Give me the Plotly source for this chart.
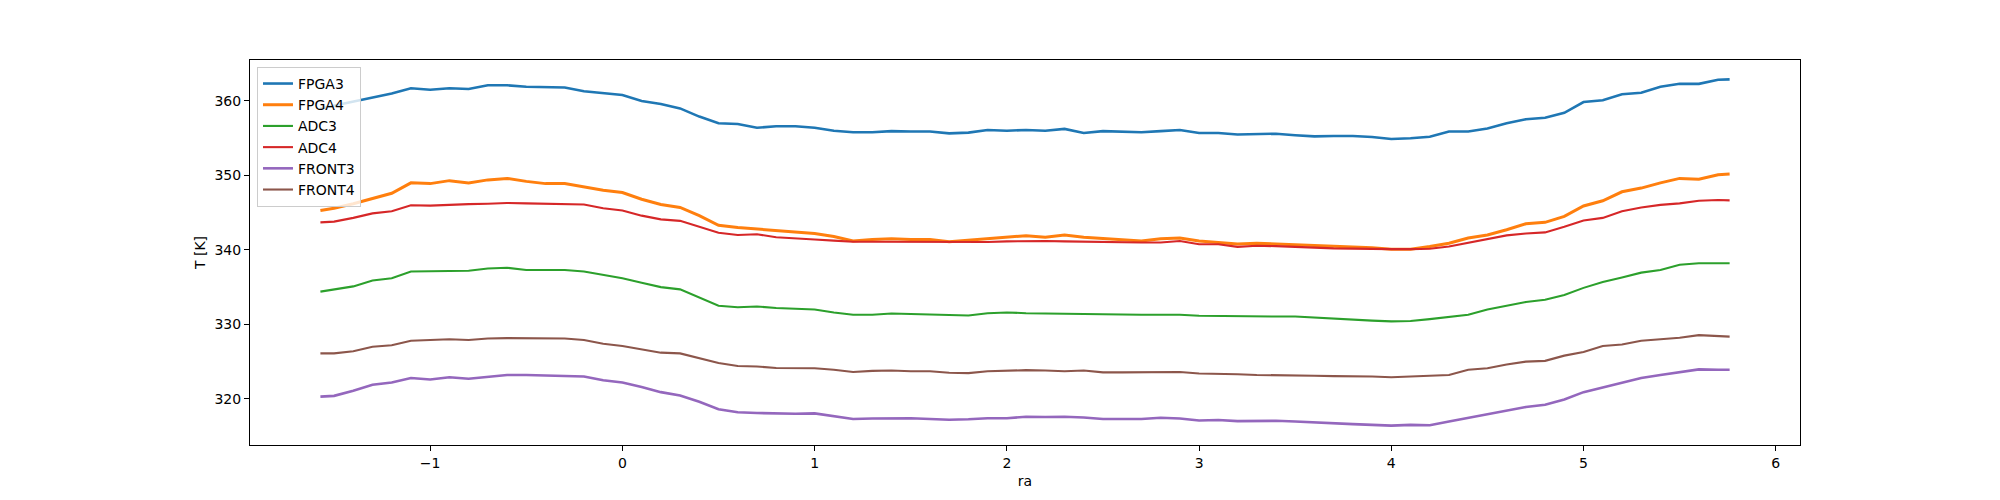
import plotly.graph_objects as go

ra = [-1.571, -1.5, -1.4, -1.3, -1.2, -1.1, -1.0, -0.9, -0.8, -0.7, -0.6, -0.5, -0.4, -0.3, -0.2, -0.1,
      0.0, 0.1, 0.2, 0.3, 0.4, 0.5, 0.6, 0.7, 0.8, 0.9, 1.0, 1.1, 1.2, 1.3, 1.4, 1.5, 1.6, 1.7, 1.8, 1.9,
      2.0, 2.1, 2.2, 2.3, 2.4, 2.5, 2.6, 2.7, 2.8, 2.9, 3.0, 3.1, 3.2, 3.3, 3.4, 3.5, 3.6, 3.7, 3.8, 3.9,
      4.0, 4.1, 4.2, 4.3, 4.4, 4.5, 4.6, 4.7, 4.8, 4.9, 5.0, 5.1, 5.2, 5.3, 5.4, 5.5, 5.6, 5.7, 5.76]

fpga3 = [359.0, 359.4, 359.9, 360.5, 361.0, 361.7, 361.5, 361.7, 361.6, 362.1, 362.1, 361.9, 361.9, 361.8, 361.3, 361.0,
         360.8, 360.0, 359.6, 359.0, 357.9, 357.0, 356.9, 356.4, 356.6, 356.6, 356.4, 356.0, 355.8, 355.8, 355.95, 355.9, 355.9, 355.65, 355.75, 356.1,
         356.0, 356.1, 356.0, 356.25, 355.7, 355.95, 355.9, 355.8, 355.95, 356.1, 355.7, 355.7, 355.5, 355.55, 355.6, 355.4, 355.25, 355.3, 355.3, 355.15,
         354.9, 355.0, 355.2, 355.9, 355.9, 356.3, 357.0, 357.55, 357.75, 358.4, 359.85, 360.1, 360.9, 361.1, 361.9, 362.3, 362.3, 362.85, 362.9]

fpga4 = [345.3, 345.6, 346.2, 346.9, 347.6, 349.0, 348.9, 349.3, 349.0, 349.4, 349.6, 349.2, 348.9, 348.9, 348.4, 348.0,
         347.7, 346.8, 346.1, 345.7, 344.6, 343.3, 343.0, 342.8, 342.5, 342.3, 342.2, 341.8, 341.2, 341.4, 341.5, 341.4, 341.4, 341.1, 341.3, 341.5,
         341.8, 341.9, 341.7, 342.0, 341.7, 341.5, 341.35, 341.2, 341.5, 341.6, 341.2, 341.0, 340.8, 340.9, 340.85, 340.7, 340.6, 340.5, 340.45, 340.3,
         340.1, 340.1, 340.45, 340.9, 341.6, 342.0, 342.7, 343.5, 343.7, 344.5, 345.9, 346.6, 347.8, 348.3, 349.0, 349.6, 349.5, 350.1, 350.2]

adc3 = [334.4, 334.7, 335.1, 335.9, 336.2, 337.1, 337.1, 337.2, 337.2, 337.5, 337.6, 337.3, 337.3, 337.3, 337.1, 336.7,
        336.2, 335.6, 335.0, 334.7, 333.6, 332.5, 332.3, 332.4, 332.2, 332.15, 332.0, 331.6, 331.3, 331.3, 331.45, 331.4, 331.35, 331.2, 331.2, 331.5,
        331.6, 331.5, 331.45, 331.5, 331.35, 331.3, 331.3, 331.3, 331.3, 331.3, 331.15, 331.1, 331.05, 331.1, 331.05, 331.05, 330.9, 330.7, 330.65, 330.5,
        330.4, 330.45, 330.7, 331.05, 331.3, 332.0, 332.45, 333.0, 333.3, 333.95, 334.9, 335.7, 336.3, 336.95, 337.3, 338.0, 338.2, 338.2, 338.2]

adc4 = [343.7, 343.8, 344.3, 344.9, 345.2, 346.0, 345.95, 346.1, 346.15, 346.2, 346.3, 346.25, 346.2, 346.2, 346.1, 345.6,
        345.3, 344.6, 344.1, 343.9, 343.1, 342.3, 342.0, 342.1, 341.7, 341.5, 341.4, 341.25, 341.1, 341.1, 341.1, 341.1, 341.1, 341.1, 341.0, 341.05,
        341.15, 341.2, 341.2, 341.15, 341.1, 341.0, 341.0, 341.0, 341.0, 341.2, 340.75, 340.75, 340.4, 340.55, 340.5, 340.35, 340.3, 340.2, 340.15, 340.1,
        340.1, 340.1, 340.15, 340.45, 340.95, 341.4, 341.95, 342.2, 342.35, 343.1, 343.95, 344.3, 345.2, 345.7, 346.05, 346.25, 346.6, 346.7, 346.65]

front3 = [320.3, 320.4, 321.1, 321.9, 322.2, 322.8, 322.6, 322.9, 322.7, 323.0, 323.2, 323.2, 323.1, 323.1, 323.0, 322.5,
          322.2, 321.6, 320.9, 320.45, 319.6, 318.6, 318.2, 318.1, 318.0, 318.0, 318.05, 317.7, 317.3, 317.35, 317.4, 317.4, 317.3, 317.2, 317.25, 317.4,
          317.4, 317.6, 317.55, 317.6, 317.5, 317.3, 317.3, 317.3, 317.45, 317.35, 317.1, 317.15, 317.0, 317.05, 317.05, 316.95, 316.8, 316.7, 316.6, 316.5,
          316.4, 316.5, 316.45, 316.95, 317.45, 318.0, 318.4, 318.9, 319.2, 319.9, 320.9, 321.5, 322.2, 322.8, 323.2, 323.6, 323.95, 323.9, 323.9]

front4 = [326.1, 326.1, 326.4, 327.0, 327.2, 327.8, 327.9, 328.0, 327.9, 328.1, 328.15, 328.15, 328.15, 328.1, 327.9, 327.4,
          327.1, 326.7, 326.2, 326.1, 325.5, 324.8, 324.4, 324.35, 324.15, 324.1, 324.1, 323.9, 323.6, 323.75, 323.8, 323.7, 323.7, 323.5, 323.45, 323.7,
          323.8, 323.85, 323.8, 323.7, 323.8, 323.55, 323.55, 323.55, 323.65, 323.6, 323.4, 323.4, 323.3, 323.2, 323.2, 323.15, 323.1, 323.05, 323.05, 323.0,
          322.9, 323.0, 323.05, 323.2, 323.9, 324.1, 324.6, 325.0, 325.1, 325.8, 326.3, 327.1, 327.3, 327.8, 328.0, 328.2, 328.55, 328.4, 328.35]

series_names = ["FPGA3", "FPGA4", "ADC3", "ADC4", "FRONT3", "FRONT4"]
series_values = [fpga3, fpga4, adc3, adc4, front3, front4]
colors = ["#1f77b4", "#ff7f0e", "#2ca02c", "#d62728", "#9467bd", "#8c564b"]
widths = [2.6, 3.0, 2.1, 2.1, 2.6, 2.1]

x_tick_vals = [-1, 0, 1, 2, 3, 4, 5, 6]
x_tick_text = ["−1", "0", "1", "2", "3", "4", "5", "6"]
y_tick_vals = [320, 330, 340, 350, 360]

fig = go.Figure()
for name, vals, c, w in zip(series_names, series_values, colors, widths):
    fig.add_trace(go.Scatter(x=ra, y=vals, mode="lines", name=name,
                             line=dict(color=c, width=w)))

font = dict(family="DejaVu Sans", size=14, color="black")
# the page body adds an 8px offset, so the figure is 8px smaller and shifted margins compensate
fig.update_layout(
    width=1992, height=492,
    margin=dict(l=242, r=200, t=52, b=55, autoexpand=False),
    paper_bgcolor="white", plot_bgcolor="white",
    font=font,
    showlegend=True,
    legend=dict(x=0.0045, y=0.982, xanchor="left", yanchor="top",
                bgcolor="rgba(255,255,255,0.8)", bordercolor="#cccccc", borderwidth=1,
                font=dict(family="DejaVu Sans", size=14, color="black"),
                tracegroupgap=0),
    xaxis=dict(range=[-1.9373, 6.1261], tickvals=x_tick_vals, ticktext=x_tick_text,
               showgrid=False, zeroline=False, showline=True, mirror=True,
               linecolor="black", linewidth=1, ticks="outside", ticklen=5,
               tickcolor="black", tickwidth=1, automargin=False,
               title=dict(text="ra", font=font, standoff=6)),
    yaxis=dict(range=[313.8, 365.5], tickvals=y_tick_vals,
               showgrid=False, zeroline=False, showline=True, mirror=True,
               linecolor="black", linewidth=1, ticks="outside", ticklen=5,
               tickcolor="black", tickwidth=1, automargin=False,
               title=dict(text="T [K]", font=font, standoff=5)),
)

fig.write_html("out.html")
